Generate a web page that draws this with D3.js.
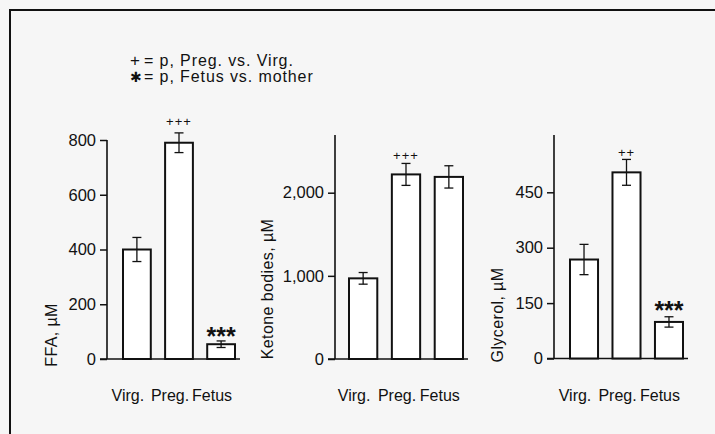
<!DOCTYPE html>
<html><head><meta charset="utf-8">
<script src="https://cdn.jsdelivr.net/npm/d3@7"></script>
<style>
body{margin:0;background:#f6f6f6;}
text{font-family:"Liberation Sans",Arial,sans-serif;fill:#111;}
</style></head>
<body>
<svg id="c" width="715" height="434"></svg>
<script>
const categories = ["Virg.", "Preg.", "Fetus"];
const ffaValues = [400, 790, 54];
const ffaErrors = [44, 36, 12];
const ketoneValues = [970, 2220, 2190];
const ketoneErrors = [70, 132, 134];
const glycerolValues = [268, 504, 99];
const glycerolErrors = [41, 35, 14];
const ffaTicks = [0, 200, 400, 600, 800];
const ketoneTicks = [0, 1000, 2000];
const glycerolTicks = [0, 150, 300, 450];
const ffaMarks = ["", "+++", "***"];
const ketoneMarks = ["", "+++", ""];
const glycerolMarks = ["", "++", "***"];
const legendLines = [["+", "= p, Preg. vs. Virg."], ["\u2731", "= p, Fetus vs. mother"]];

const svg = d3.select("#c");
svg.append("rect").attr("width",715).attr("height",434).attr("fill","#f6f6f6");
svg.append("line").attr("x1",9).attr("x2",715).attr("y1",10).attr("y2",10).attr("stroke","#111").attr("stroke-width",2);
svg.append("line").attr("x1",10).attr("x2",10).attr("y1",9).attr("y2",434).attr("stroke","#111").attr("stroke-width",2);

legendLines.forEach((l,i)=>{
  const g = svg.append("g").attr("transform",`translate(130,${66+i*16})`);
  g.append("text").attr("x",0).attr("font-size",i?14:17).attr("font-family","DejaVu Sans").text(l[0]);
  g.append("text").attr("x",14).attr("font-size",16).attr("letter-spacing",0.9).text(l[1]);
});

const panels = [
  {vals:ffaValues, errs:ffaErrors, ticks:ffaTicks, marks:ffaMarks, domain:[0,800], y0:359, y1:140, top:140, axisX:107, bx:[123,235], baseX:[100,240], label:"FFA, \u00b5M", labelX:57, labelY:335, fmt:d3.format("d"), markY:[0,126,345]},
  {vals:ketoneValues, errs:ketoneErrors, ticks:ketoneTicks, marks:ketoneMarks, domain:[0,2000], y0:359, y1:192.7, top:135, axisX:335, bx:[349,463], baseX:[328,468], label:"Ketone bodies, \u00b5M", labelX:273, labelY:289, fmt:d3.format(","), markY:[0,160,0]},
  {vals:glycerolValues, errs:glycerolErrors, ticks:glycerolTicks, marks:glycerolMarks, domain:[0,450], y0:358.5, y1:192.3, top:135, axisX:554, bx:[570,683], baseX:[547,688], label:"Glycerol, \u00b5M", labelX:503, labelY:315, fmt:d3.format("d"), markY:[0,157,319]}
];

panels.forEach(p=>{
  const x = d3.scaleBand().domain(categories).range(p.bx).paddingInner(0.34).paddingOuter(0);
  const y = d3.scaleLinear().domain(p.domain).range([p.y0,p.y1]);
  const g = svg.append("g");
  const ax = g.append("g").attr("transform",`translate(${p.axisX},0)`)
    .call(d3.axisLeft(y).tickValues(p.ticks).tickSize(7).tickSizeOuter(0).tickPadding(4).tickFormat(p.fmt));
  ax.select(".domain").remove();
  ax.selectAll(".tick line").attr("stroke","#111").attr("stroke-width",1.5);
  ax.selectAll(".tick text").attr("font-size",16.5).attr("fill","#111").attr("font-family","Liberation Sans, Arial, sans-serif");
  g.append("line").attr("x1",p.axisX).attr("x2",p.axisX).attr("y1",p.top).attr("y2",y(0)).attr("stroke","#111").attr("stroke-width",1.6);
  g.append("line").attr("x1",p.baseX[0]).attr("x2",p.baseX[1]).attr("y1",y(0)).attr("y2",y(0)).attr("stroke","#111").attr("stroke-width",1.6);
  categories.forEach((c,i)=>{
    g.append("rect").attr("x",x(c)).attr("y",y(p.vals[i])).attr("width",x.bandwidth()).attr("height",y(0)-y(p.vals[i]))
      .attr("fill","#fff").attr("stroke","#111").attr("stroke-width",2);
    const cx = x(c)+x.bandwidth()/2;
    const hi = y(p.vals[i]+p.errs[i]), lo = y(p.vals[i]-p.errs[i]);
    g.append("line").attr("x1",cx).attr("x2",cx).attr("y1",hi).attr("y2",lo).attr("stroke","#111").attr("stroke-width",1.3);
    [hi,lo].forEach(yy=>g.append("line").attr("x1",cx-4.5).attr("x2",cx+4.5).attr("y1",yy).attr("y2",yy).attr("stroke","#111").attr("stroke-width",1.3));
    const m = p.marks[i];
    if(m){
      if(m.includes("*")){
        g.append("text").attr("x",cx).attr("y",p.markY[i]).attr("text-anchor","middle").attr("font-family","DejaVu Sans").attr("font-weight","bold").attr("font-size",25).text(m);
      } else {
        g.append("text").attr("x",cx).attr("y",p.markY[i]).attr("text-anchor","middle").attr("font-family","DejaVu Sans").attr("font-size",13).attr("letter-spacing",1).text(m);
      }
    }
    g.append("text").attr("x",cx-9).attr("y",401).attr("text-anchor","middle").attr("font-size",16).text(c);
  });
  g.append("text").attr("transform",`translate(${p.labelX},${p.labelY}) rotate(-90)`).attr("text-anchor","middle").attr("font-size",16).attr("letter-spacing",0.4).text(p.label);
});
</script>
</body></html>
